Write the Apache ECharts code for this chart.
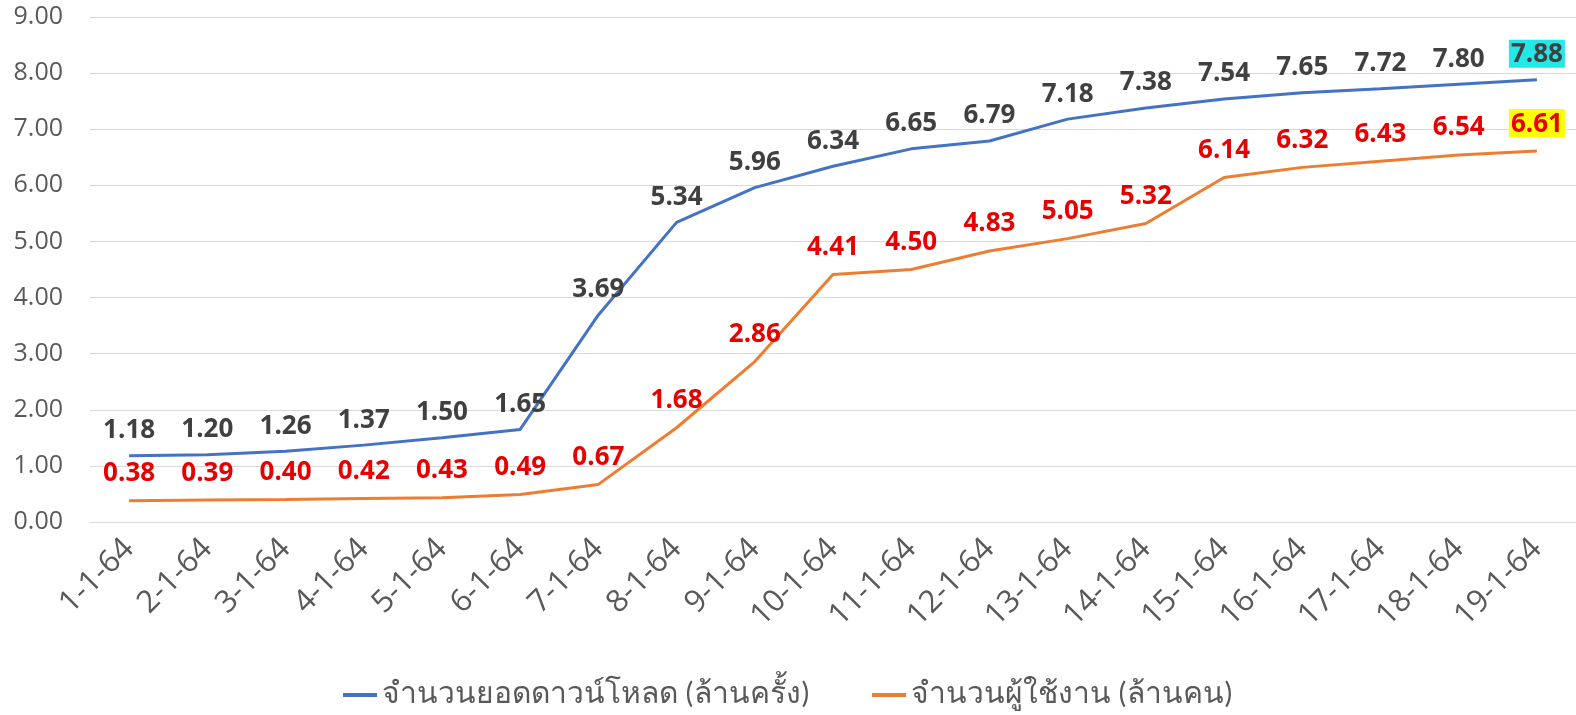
<!DOCTYPE html>
<html>
<head>
<meta charset="utf-8">
<script src="https://cdn.jsdelivr.net/npm/echarts@6/dist/echarts.min.js"></script>
<style>
  html, body { margin: 0; padding: 0; background: #fff; }
  #chart { width: 1576px; height: 715px; }
</style>
</head>
<body>
<div id="chart"></div>
<script>
// วันที่ (แกน x)
var days = ['1-1-64', '2-1-64', '3-1-64', '4-1-64', '5-1-64', '6-1-64', '7-1-64', '8-1-64', '9-1-64', '10-1-64',
  '11-1-64', '12-1-64', '13-1-64', '14-1-64', '15-1-64', '16-1-64', '17-1-64', '18-1-64', '19-1-64']
// ยอดดาวน์โหลด (ล้านครั้ง)
var downloads = [1.18, 1.20, 1.26, 1.37, 1.50, 1.65, 3.69, 5.34, 5.96, 6.34, 6.65, 6.79, 7.18, 7.38, 7.54, 7.65, 7.72, 7.80, 7.88]
// ผู้ใช้งาน (ล้านคน)
var users = [0.38, 0.39, 0.40, 0.42, 0.43, 0.49, 0.67, 1.68, 2.86, 4.41, 4.50, 4.83, 5.05, 5.32, 6.14, 6.32, 6.43, 6.54, 6.61]
var names = ['จำนวนยอดดาวน์โหลด (ล้านครั้ง)', 'จำนวนผู้ใช้งาน (ล้านคน)']

var numFont = '"Open Sans", "Noto Sans", sans-serif'
var thaiFont = 'Carlito, "Noto Sans", "DejaVu Sans", sans-serif'

// จุดสุดท้ายมีพื้นหลังสี
function withHighlight(arr, bg) {
  return arr.map(function (v, i) {
    if (i === arr.length - 1) {
      return { value: v, label: { backgroundColor: bg, padding: [2, 2, 0, 2] } }
    }
    return v
  })
}

var chart = echarts.init(document.getElementById('chart'))
chart.setOption({
  animation: false,
  textStyle: { fontFamily: numFont },
  grid: { left: 90, right: 0, top: 17, bottom: 193 },
  legend: {
    bottom: 0,
    left: 'center',
    itemWidth: 34,
    itemHeight: 4,
    itemGap: 62,
    icon: 'rect',
    textStyle: { fontSize: 30, color: '#595959', fontFamily: thaiFont },
    data: names
  },
  xAxis: {
    type: 'category',
    boundaryGap: true,
    data: days,
    axisLine: { show: true, lineStyle: { color: '#d9d9d9', width: 1 } },
    axisTick: { show: false },
    axisLabel: { rotate: 45, fontSize: 31, color: '#595959', margin: 22, interval: 0, fontFamily: numFont }
  },
  yAxis: {
    type: 'value',
    min: 0,
    max: 9,
    interval: 1,
    axisLine: { show: false },
    axisTick: { show: false },
    axisLabel: {
      fontSize: 25, color: '#595959', margin: 27, fontFamily: numFont,
      formatter: function (v) { return v.toFixed(2) }
    },
    splitLine: { lineStyle: { color: '#d9d9d9', width: 1 } }
  },
  series: [
    {
      name: names[0],
      type: 'line',
      data: withHighlight(downloads, '#22e8e8'),
      symbol: 'circle',
      symbolSize: 0,
      lineStyle: { color: '#4472c4', width: 3 },
      itemStyle: { color: '#4472c4' },
      label: {
        show: true, position: 'top', distance: 12,
        fontSize: 26, fontWeight: 'bold', color: '#404040', fontFamily: numFont,
        formatter: function (p) { return p.value.toFixed(2) }
      }
    },
    {
      name: names[1],
      type: 'line',
      data: withHighlight(users, '#ffff00'),
      symbol: 'circle',
      symbolSize: 0,
      lineStyle: { color: '#ed7d31', width: 3 },
      itemStyle: { color: '#ed7d31' },
      label: {
        show: true, position: 'top', distance: 14,
        fontSize: 26, fontWeight: 'bold', color: '#e60000', fontFamily: numFont,
        formatter: function (p) { return p.value.toFixed(2) }
      }
    }
  ]
})
</script>
</body>
</html>
